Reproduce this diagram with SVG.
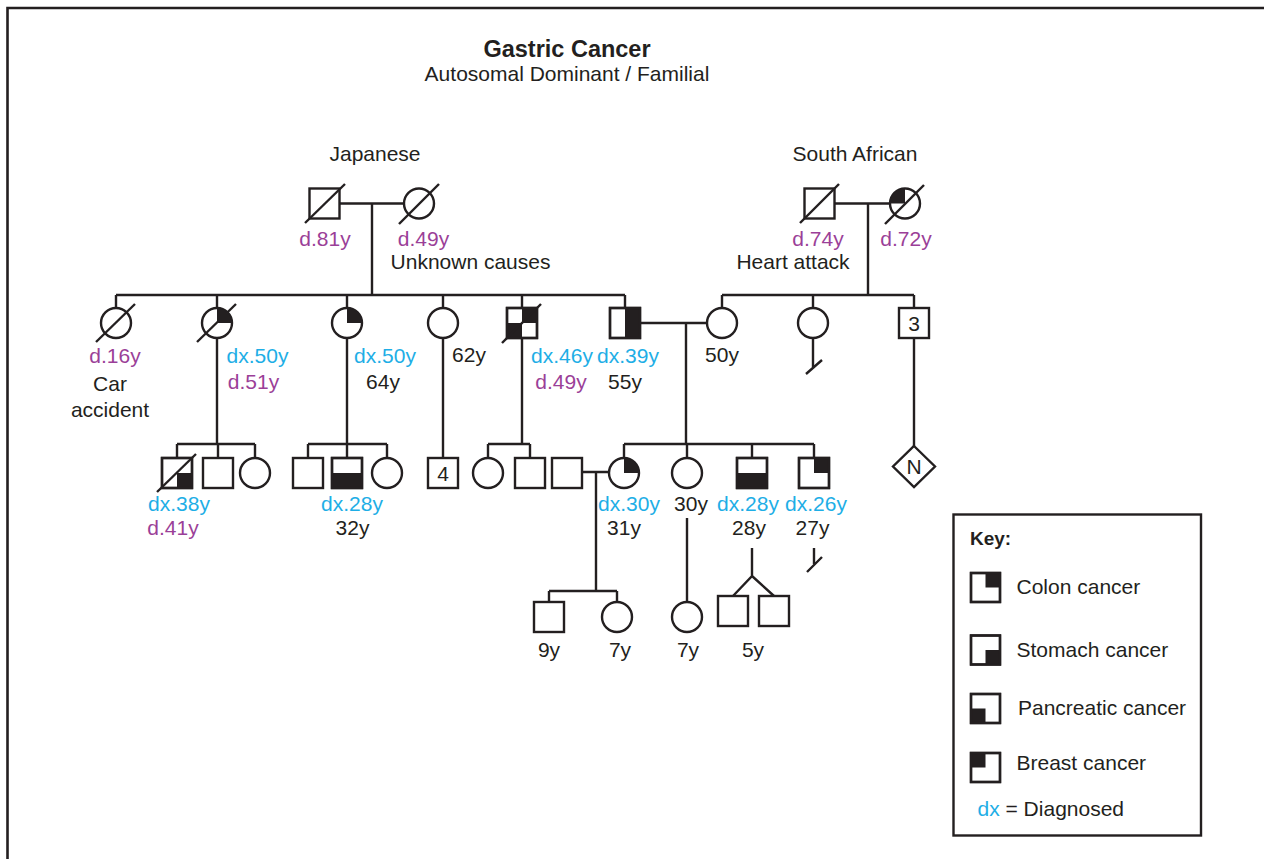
<svg xmlns="http://www.w3.org/2000/svg" width="1264" height="859" viewBox="0 0 1264 859">
<style>
text{font-family:"Liberation Sans",Arial,sans-serif;font-size:21px;fill:#231f20;text-anchor:middle}
.t{font-weight:bold;font-size:23.5px}
.p{fill:#9b3f98}
.b{fill:#1eaee6}
.s{fill:#fff;stroke:#231f20;stroke-width:2.4}
.f{fill:#231f20;stroke:none}
.l{fill:none;stroke:#231f20;stroke-width:2.4}
.st{text-anchor:start}
</style>
<rect width="1264" height="859" fill="#fff"/>
<path d="M7.5,860 V8 H1266" fill="none" stroke="#231f20" stroke-width="2.6"/>
<g id="title">
<text class="t" x="567" y="57">Gastric Cancer</text>
<text x="567" y="81">Autosomal Dominant / Familial</text>
<text x="375" y="161">Japanese</text>
<text x="855" y="161">South African</text>
</g>
<g id="connectors" class="l">
<path d="M339.5,203.5 H404 M372,203.5 V295 M834.5,203.5 H890 M868,203.5 V295"/>
<path d="M116,295 H625 M116,295 V308 M217,295 V308 M347,295 V308 M443,295 V308 M522,295 V308 M625,295 V308"/>
<path d="M722,295 H914 M722,295 V308 M813,295 V308 M914,295 V308"/>
<path d="M640,323 H707 M686,323 V444"/>
<path d="M813,338 V367 M806,374 L822,360"/>
<path d="M914,338 V446"/>
<path d="M217,338 V444 M177,444 H255 M177,444 V458 M218,444 V458 M255,444 V458"/>
<path d="M347,338 V444 M308,444 H387 M308,444 V458 M347,444 V458 M387,444 V458"/>
<path d="M443,338 V458"/>
<path d="M522,338 V444 M488,444 H530 M488,444 V458 M530,444 V458"/>
<path d="M624,444 H814 M624,444 V458 M687,444 V458 M752,444 V458 M814,444 V458"/>
<path d="M582,472 H609 M596,472 V591 M549,591 H617 M549,591 V602 M617,591 V602"/>
<path d="M687,518 V602"/>
<path d="M752,548 V576 L733,596 M752,576 L774,596"/>
<path d="M814,548 V564 M807,572 L822,557"/>
</g>
<g id="gen1-jp-father">
<rect class="s" x="309.5" y="188.5" width="30" height="30"/>
<path class="l" d="M305,223 L345,184"/>
<text class="p" x="325" y="246">d.81y</text>
</g>
<g id="gen1-jp-mother">
<circle class="s" cx="419" cy="203.5" r="15"/>
<path class="l" d="M399,224 L439,184"/>
<text class="p" x="423.5" y="246">d.49y</text>
<text x="470.5" y="269">Unknown causes</text>
</g>
<g id="gen1-sa-father">
<rect class="s" x="804.5" y="188.5" width="30" height="30"/>
<path class="l" d="M800,223 L839,184"/>
<text class="p" x="818" y="246">d.74y</text>
<text x="793" y="269">Heart attack</text>
</g>
<g id="gen1-sa-mother">
<circle class="s" cx="905" cy="203.5" r="15"/>
<path class="f" d="M905,203.5 H890 A15,15 0 0 1 905,188.5 Z"/>
<path class="l" d="M885,224 L924,185"/>
<text class="p" x="906" y="246">d.72y</text>
</g>
<g id="g2-1">
<circle class="s" cx="116" cy="323" r="15"/>
<path class="l" d="M96,342 L135,304"/>
<text class="p" x="115" y="363">d.16y</text>
<text x="110" y="391">Car</text>
<text x="110" y="417">accident</text>
</g>
<g id="g2-2">
<circle class="s" cx="217" cy="323" r="15"/>
<path class="f" d="M217,323 V308 A15,15 0 0 1 232,323 Z"/>
<path class="l" d="M197,342 L236,304"/>
<text class="b" x="257.5" y="363">dx.50y</text>
<text class="p" x="253.5" y="389">d.51y</text>
</g>
<g id="g2-3">
<circle class="s" cx="347" cy="323" r="15"/>
<path class="f" d="M347,323 V308 A15,15 0 0 1 362,323 Z"/>
<text class="b" x="385" y="363">dx.50y</text>
<text x="383" y="389">64y</text>
</g>
<g id="g2-4">
<circle class="s" cx="443" cy="323" r="15"/>
<text x="469" y="362">62y</text>
</g>
<g id="g2-5">
<rect class="s" x="507" y="308" width="30" height="30"/>
<rect class="f" x="522" y="308" width="15" height="15"/>
<rect class="f" x="507" y="323" width="15" height="15"/>
<rect class="l" x="507" y="308" width="30" height="30"/>
<path class="l" d="M502,343 L541,304"/>
<text class="b" x="562" y="363">dx.46y</text>
<text class="p" x="561" y="389">d.49y</text>
</g>
<g id="g2-6">
<rect class="s" x="610" y="308" width="30" height="30"/>
<rect class="f" x="625" y="308" width="15" height="30"/>
<rect class="l" x="610" y="308" width="30" height="30"/>
<text class="b" x="628" y="363">dx.39y</text>
<text x="625" y="389">55y</text>
</g>
<g id="g2-7">
<circle class="s" cx="722" cy="323" r="15"/>
<text x="722" y="362">50y</text>
</g>
<g id="g2-8">
<circle class="s" cx="813" cy="323" r="15"/>
</g>
<g id="g2-9">
<rect class="s" x="899" y="308" width="30" height="30"/>
<text x="914" y="331">3</text>
</g>
<g id="g3-N">
<path class="s" d="M914,446 L935,466.5 L914,487 L893,466.5 Z"/>
<text x="914" y="474">N</text>
</g>
<g id="g3-A">
<rect class="s" x="162" y="458" width="30" height="30"/>
<rect class="f" x="177" y="473" width="15" height="15"/>
<rect class="l" x="162" y="458" width="30" height="30"/>
<path class="l" d="M157,492 L196,454"/>
<text class="b" x="179" y="511">dx.38y</text>
<text class="p" x="173" y="535">d.41y</text>
</g>
<g id="g3-B"><rect class="s" x="203" y="458" width="30" height="30"/></g>
<g id="g3-C"><circle class="s" cx="255" cy="473" r="15"/></g>
<g id="g3-D"><rect class="s" x="293" y="458" width="30" height="30"/></g>
<g id="g3-E">
<rect class="s" x="332" y="458" width="30" height="30"/>
<rect class="f" x="332" y="473" width="30" height="15"/>
<rect class="l" x="332" y="458" width="30" height="30"/>
<text class="b" x="352" y="511">dx.28y</text>
<text x="352.5" y="535">32y</text>
</g>
<g id="g3-F"><circle class="s" cx="387" cy="473" r="15"/></g>
<g id="g3-4">
<rect class="s" x="428" y="458" width="30" height="30"/>
<text x="443" y="481">4</text>
</g>
<g id="g3-G"><circle class="s" cx="488" cy="473" r="15"/></g>
<g id="g3-H"><rect class="s" x="515" y="458" width="30" height="30"/></g>
<g id="g3-I"><rect class="s" x="552" y="458" width="30" height="30"/></g>
<g id="g3-J">
<circle class="s" cx="624" cy="473" r="15"/>
<path class="f" d="M624,473 V458 A15,15 0 0 1 639,473 Z"/>
<text class="b" x="629" y="511">dx.30y</text>
<text x="624" y="535">31y</text>
</g>
<g id="g3-K">
<circle class="s" cx="687" cy="473" r="15"/>
<text x="691" y="511">30y</text>
</g>
<g id="g3-L">
<rect class="s" x="737" y="458" width="30" height="30"/>
<rect class="f" x="737" y="473" width="30" height="15"/>
<rect class="l" x="737" y="458" width="30" height="30"/>
<text class="b" x="748" y="511">dx.28y</text>
<text x="749" y="535">28y</text>
</g>
<g id="g3-M">
<rect class="s" x="799" y="458" width="30" height="30"/>
<rect class="f" x="814" y="458" width="15" height="15"/>
<rect class="l" x="799" y="458" width="30" height="30"/>
<text class="b" x="816" y="511">dx.26y</text>
<text x="812.5" y="535">27y</text>
</g>
<g id="g4-1">
<rect class="s" x="534" y="602" width="30" height="30"/>
<text x="549" y="657">9y</text>
</g>
<g id="g4-2">
<circle class="s" cx="617" cy="617" r="15"/>
<text x="620" y="657">7y</text>
</g>
<g id="g4-3">
<circle class="s" cx="687" cy="617" r="15"/>
<text x="688" y="657">7y</text>
</g>
<g id="g4-twins">
<rect class="s" x="718" y="596" width="30" height="30"/>
<rect class="s" x="759" y="596" width="30" height="30"/>
<text x="753" y="657">5y</text>
</g>
<g id="key">
<rect x="953.5" y="514.5" width="247.5" height="321" fill="#fff" stroke="#231f20" stroke-width="2.4"/>
<text class="st" x="970" y="545" style="font-weight:bold;font-size:19px">Key:</text>
<rect class="s" x="971" y="573" width="29" height="29"/>
<rect class="f" x="985.5" y="573" width="14.5" height="14.5"/>
<rect class="l" x="971" y="573" width="29" height="29"/>
<text class="st" x="1016.5" y="594">Colon cancer</text>
<rect class="s" x="971" y="635.5" width="29" height="29"/>
<rect class="f" x="985.5" y="650" width="14.5" height="14.5"/>
<rect class="l" x="971" y="635.5" width="29" height="29"/>
<text class="st" x="1016.5" y="657">Stomach cancer</text>
<rect class="s" x="971" y="694" width="29" height="29"/>
<rect class="f" x="971" y="708.5" width="14.5" height="14.5"/>
<rect class="l" x="971" y="694" width="29" height="29"/>
<text class="st" x="1018" y="715">Pancreatic cancer</text>
<rect class="s" x="971" y="753" width="29" height="29"/>
<rect class="f" x="971" y="753" width="14.5" height="14.5"/>
<rect class="l" x="971" y="753" width="29" height="29"/>
<text class="st" x="1016.5" y="770">Breast cancer</text>
<text class="st" x="977.5" y="816"><tspan class="b">dx</tspan> = Diagnosed</text>
</g>
</svg>
